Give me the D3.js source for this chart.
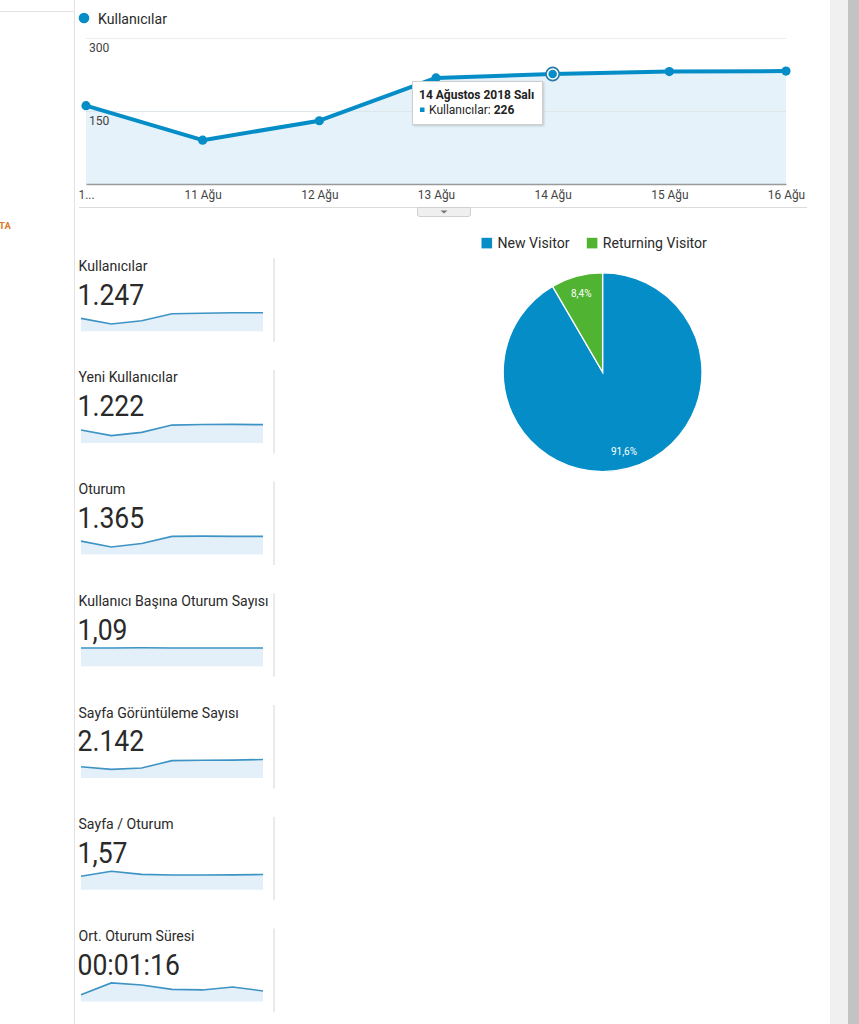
<!DOCTYPE html>
<html>
<head>
<meta charset="utf-8">
<script src="https://cdn.jsdelivr.net/npm/d3@7"></script>
<style>
  html, body { margin: 0; padding: 0; background: #fff; }
  svg { display: block; font-family: Roboto, "Noto Sans", sans-serif; }
</style>
</head>
<body>
<svg id="chart" width="859" height="1024"></svg>
<script>
// ---------- data ----------
const days = ["10 Ağu", "11 Ağu", "12 Ağu", "13 Ağu", "14 Ağu", "15 Ağu", "16 Ağu"];
const dayTickLabels = ["1...", "11 Ağu", "12 Ağu", "13 Ağu", "14 Ağu", "15 Ağu", "16 Ağu"];
const users = [161, 90, 130, 218, 226, 231, 232];
const yTicks = [150, 300];
const seriesName = "Kullanıcılar";
const tooltipTitle = "14 Ağustos 2018 Salı";
const tooltipIndex = 4;

const visitorTypes = ["New Visitor", "Returning Visitor"];
const visitorShares = [91.6, 8.4];
const visitorLabels = ["91,6%", "8,4%"];

const metricNames = ["Kullanıcılar", "Yeni Kullanıcılar", "Oturum", "Kullanıcı Başına Oturum Sayısı",
                     "Sayfa Görüntüleme Sayısı", "Sayfa / Oturum", "Ort. Oturum Süresi"];
const metricValues = ["1.247", "1.222", "1.365", "1,09", "2.142", "1,57", "00:01:16"];
const sparkUsers = [161, 90, 130, 218, 226, 231, 232];
const sparkNewUsers = [153, 86, 124, 210, 216, 218, 215];
const sparkSessions = [175, 98, 143, 236, 240, 237, 236];
const sparkSessionsPerUser = [1.09, 1.09, 1.10, 1.09, 1.09, 1.09, 1.09];
const sparkPageviews = [238, 183, 211, 367, 374, 378, 391];
const sparkPagesPerSession = [1.36, 1.87, 1.55, 1.49, 1.49, 1.50, 1.53];
const sparkAvgDuration = [39, 108, 96, 70, 67, 84, 61];
const sparkSeries = [sparkUsers, sparkNewUsers, sparkSessions, sparkSessionsPerUser,
                     sparkPageviews, sparkPagesPerSession, sparkAvgDuration];

// ---------- styles ----------
const BLUE = "#058dc7", GREEN = "#50b432", FILL = "#e6f2fa";
const INK = "#2a2a2a";

const svg = d3.select("#chart");
function txt(parent, x, y, str, o = {}) {
  const s = o.sx == null ? 0.94 : o.sx;
  return parent.append("text")
    .attr("transform", `translate(${x},${y}) scale(${s},1)`)
    .attr("font-size", o.size || 12)
    .attr("font-weight", o.weight || "normal")
    .attr("fill", o.fill || INK)
    .attr("text-anchor", o.anchor || "start")
    .attr("dy", o.dy || null)
    .text(str);
}

// ---------- page chrome ----------
svg.append("rect").attr("x", 830).attr("y", 0).attr("width", 18).attr("height", 1024).attr("fill", "#f0f0f0");
svg.append("rect").attr("x", 848).attr("y", 0).attr("width", 11).attr("height", 1024).attr("fill", "#c3c3c3");
svg.append("line").attr("x1", 74.5).attr("x2", 74.5).attr("y1", 0).attr("y2", 1024).attr("stroke", "#e2e2e2");
svg.append("line").attr("x1", 0).attr("x2", 74).attr("y1", 11.5).attr("y2", 11.5).attr("stroke", "#e2e2e2");
txt(svg, -1, 229, "TA", { size: 9.5, weight: "bold", fill: "#e07b2a", sx: 1 });

// ---------- main line chart ----------
const x = d3.scalePoint().domain(days).range([86, 786]);
const y = d3.scaleLinear().domain([0, 300]).range([184, 38]);

const main = svg.append("g");
// legend
main.append("circle").attr("cx", 84).attr("cy", 18).attr("r", 5.3).attr("fill", BLUE);
txt(main, 98, 24, seriesName, { size: 15 });

// area
main.append("path").datum(users)
  .attr("d", d3.area().x((d, i) => x(days[i])).y0(y(0)).y1(d => y(d)))
  .attr("fill", FILL);

// gridlines
main.selectAll("line.grid").data(yTicks).join("line").attr("class", "grid")
  .attr("x1", x(days[0])).attr("x2", x(days[days.length - 1]))
  .attr("y1", d => Math.round(y(d)) + 0.5).attr("y2", d => Math.round(y(d)) + 0.5)
  .attr("stroke", (d, i) => i === yTicks.length - 1 ? "#ececec" : "#dfe6ea");

// y labels
yTicks.forEach(t => txt(main, 89, y(t) + 13.5, String(t), { size: 12.5, fill: "#444", sx: 0.97 }));

// x axis
const xAxis = d3.axisBottom(x).tickSize(0).tickPadding(8)
  .tickFormat((d, i) => dayTickLabels[i]);
const gx = main.append("g").attr("transform", `translate(0,${y(0)})`).call(xAxis);
gx.select(".domain").attr("stroke", "#9a9a9a").attr("stroke-width", 1.5);
gx.selectAll("text").attr("font-size", 12.5).attr("fill", "#444")
  .attr("font-family", "Roboto, 'Noto Sans', sans-serif")
  .attr("transform", "scale(0.95,1)").attr("dy", "0.55em");

// line
main.append("path").datum(users)
  .attr("d", d3.line().x((d, i) => x(days[i])).y(d => y(d)))
  .attr("fill", "none").attr("stroke", BLUE).attr("stroke-width", 4)
  .attr("stroke-linejoin", "round");

// points
main.selectAll("circle.pt").data(users).join("circle").attr("class", "pt")
  .attr("cx", (d, i) => x(days[i])).attr("cy", d => y(d))
  .attr("r", (d, i) => i === tooltipIndex ? 0 : 4.6).attr("fill", BLUE);
// hovered point
main.append("circle").attr("cx", x(days[tooltipIndex])).attr("cy", y(users[tooltipIndex]))
  .attr("r", 6.6).attr("fill", "#fff").attr("stroke", "#2a7aa6").attr("stroke-width", 1.6);
main.append("circle").attr("cx", x(days[tooltipIndex])).attr("cy", y(users[tooltipIndex]))
  .attr("r", 4.3).attr("fill", BLUE);

// bottom separator + tab
main.append("line").attr("x1", 79).attr("x2", 807).attr("y1", 207.5).attr("y2", 207.5).attr("stroke", "#dcdcdc");
main.append("path").attr("d", "M417.5,207.5 V214 q0,2.5 2.5,2.5 H468 q2.5,0 2.5,-2.5 V207.5 Z")
  .attr("fill", "#efefef").attr("stroke", "#d0d0d0");
main.append("path").attr("d", "M440.5,210.5 L447.5,210.5 L444,213.5 Z").attr("fill", "#777");

// tooltip
const defs = svg.append("defs");
const f = defs.append("filter").attr("id", "sh").attr("x", "-10%").attr("y", "-20%").attr("width", "130%").attr("height", "160%");
f.append("feDropShadow").attr("dx", 1).attr("dy", 1).attr("stdDeviation", 1.2).attr("flood-color", "#000").attr("flood-opacity", 0.18);
const tip = main.append("g");
tip.append("rect").attr("x", 412.5).attr("y", 81.5).attr("width", 130).attr("height", 43)
  .attr("fill", "#fff").attr("stroke", "#cfcfcf").attr("filter", "url(#sh)");
txt(tip, 419, 98.5, tooltipTitle, { size: 12, weight: "bold", fill: "#222", sx: 1 });
tip.append("rect").attr("x", 420).attr("y", 107.5).attr("width", 4.5).attr("height", 4.5).attr("fill", BLUE);
const t2 = tip.append("text").attr("transform", "translate(429,113.8)")
  .attr("font-size", 12).attr("fill", "#222");
t2.append("tspan").text(seriesName + ": ");
t2.append("tspan").attr("font-weight", "bold").text(String(users[tooltipIndex]));

// ---------- pie chart ----------
const pieColors = d3.scaleOrdinal().domain(visitorTypes).range([BLUE, GREEN]);
const legendX = [481.5, 586.8];
visitorTypes.forEach((t, i) => {
  svg.append("rect").attr("x", legendX[i]).attr("y", 237.8).attr("width", 10.6).attr("height", 10.6).attr("fill", pieColors(t));
  txt(svg, legendX[i] + 16, 248.3, t, { size: 15 });
});
const pieData = d3.pie().sort(null).value(d => d)(visitorShares);
const R = 99.4;
const arc = d3.arc().innerRadius(0).outerRadius(R);
const labelArc = d3.arc().innerRadius(82).outerRadius(82);
const pg = svg.append("g").attr("transform", "translate(602.6,372.2)");
pg.selectAll("path").data(pieData).join("path")
  .attr("d", arc).attr("fill", (d, i) => pieColors(visitorTypes[i]))
  .attr("stroke", "#fff").attr("stroke-width", 1.3);
pieData.forEach((d, i) => {
  const c = labelArc.centroid(d);
  txt(pg, c[0], c[1], visitorLabels[i], { size: 10, fill: "#fff", anchor: "middle", dy: "0.35em", sx: 1 });
});

// ---------- metric panels with sparklines ----------
const sx = d3.scalePoint().domain(days).range([81, 263]);
const PANEL_STEP = 111.7;
metricNames.forEach((name, k) => {
  const base = 270.7 + k * PANEL_STEP;
  const g = svg.append("g");
  txt(g, 78.5, base, name, { size: 15 });
  txt(g, 77.5, base + 33.8, metricValues[k], { size: 29.5, sx: 0.9 });
  const vals = sparkSeries[k];
  const bottom = base + 60.5;
  const sy = d3.scaleLinear().domain([0, d3.max(vals)]).range([bottom, bottom - 18.5]);
  g.append("path").datum(vals)
    .attr("d", d3.area().x((d, i) => sx(days[i])).y0(bottom).y1(d => sy(d)))
    .attr("fill", "#e3f0f9");
  g.append("path").datum(vals)
    .attr("d", d3.line().x((d, i) => sx(days[i])).y(d => sy(d)))
    .attr("fill", "none").attr("stroke", "#3d93c4").attr("stroke-width", 1.6);
  g.append("line").attr("x1", 274).attr("x2", 274).attr("y1", base - 12.5).attr("y2", base + 71)
    .attr("stroke", "#dcdcdc").attr("stroke-width", 1.2);
});
</script>
</body>
</html>
